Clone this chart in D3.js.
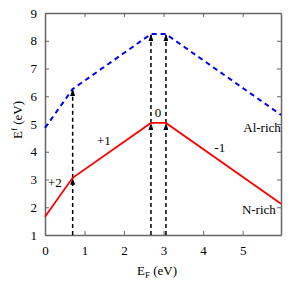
<!DOCTYPE html>
<html>
<head>
<meta charset="utf-8">
<script src="https://cdn.jsdelivr.net/npm/d3@7"></script>
<style>
  body { margin: 0; background: #fff; }
</style>
</head>
<body>
<div id="chart"></div>
<script>
// N-rich formation energy (red), kinks at transition levels
const nRichX = [0, 0.7, 2.68, 3.06, 5.97];
const nRichY = [1.66, 3.06, 5.04, 5.04, 2.13];
// Al-rich formation energy (blue dashed)
const alRichX = [0, 0.7, 2.68, 3.06, 5.97];
const alRichY = [4.86, 6.26, 8.24, 8.24, 5.33];
// transition levels (dashed arrows)
const levels = [0.7, 2.68, 3.06];
const levelLow = [3.06, 5.04, 5.04];
const levelHigh = [6.26, 8.24, 8.24];
// charge state labels
const chargeLabels = ['+2', '+1', '0', '-1'];
const chargeX = [0.25, 1.49, 2.86, 4.42];
const chargeY = [2.87, 4.39, 5.4, 4.13];
const xTicks = [0, 1, 2, 3, 4, 5];
const yTicks = [1, 2, 3, 4, 5, 6, 7, 8, 9];

const w = 300, h = 300,
      padL = 45, padR = 281, padT = 13, padB = 235;
const serif = 'Liberation Serif';

const svg = d3.select('#chart').append('svg')
    .attr('width', w).attr('height', h)
    .attr('font-family', serif);

const defs = svg.append('defs');
defs.append('marker')
    .attr('id', 'head')
    .attr('viewBox', '0 0 10 10')
    .attr('refX', 10).attr('refY', 5)
    .attr('markerWidth', 7).attr('markerHeight', 5)
    .attr('markerUnits', 'userSpaceOnUse')
    .attr('orient', 'auto')
    .attr('preserveAspectRatio', 'none')
    .append('path').attr('d', 'M0,0 L10,5 L0,10 z').attr('fill', '#000');

const x = d3.scaleLinear().domain([0, 5.97]).range([padL, padR]);
const y = d3.scaleLinear().domain([1, 9]).range([padB, padT]);

// frame with inward ticks on all sides
const frame = '#666';
svg.append('g').attr('transform', 'translate(0,' + padB + ')')
    .call(d3.axisBottom(x).tickValues(xTicks).tickSizeInner(-4).tickSizeOuter(0).tickPadding(11).tickFormat(d3.format('d')));
svg.append('g').attr('transform', 'translate(0,' + padT + ')')
    .call(d3.axisTop(x).tickValues(xTicks).tickSizeInner(-4).tickSizeOuter(0).tickFormat(''));
svg.append('g').attr('transform', 'translate(' + padL + ',0)')
    .call(d3.axisLeft(y).tickValues(yTicks).tickSizeInner(-4).tickSizeOuter(0).tickPadding(8).tickFormat(d3.format('d')));
svg.append('g').attr('transform', 'translate(' + padR + ',0)')
    .call(d3.axisRight(y).tickValues(yTicks).tickSizeInner(-4).tickSizeOuter(0).tickFormat(''));

svg.selectAll('g').attr('font-family', serif).attr('font-size', 13);
svg.selectAll('.domain').attr('stroke', frame).attr('stroke-width', 1.5);
svg.selectAll('.tick line').attr('stroke', frame);
svg.selectAll('.tick text').attr('fill', '#000');

// axis labels
const xl = svg.append('text').attr('x', 157).attr('y', 275).attr('text-anchor', 'middle').attr('font-size', 13);
xl.append('tspan').text('E');
xl.append('tspan').text('F').attr('font-size', 9).attr('dy', 3);
xl.append('tspan').text(' (eV)').attr('dy', -3);

const yl = svg.append('text').attr('transform', 'translate(22,120) rotate(-90)').attr('text-anchor', 'middle').attr('font-size', 13);
yl.append('tspan').text('E');
yl.append('tspan').text('f').attr('font-size', 9).attr('dy', -5);
yl.append('tspan').text(' (eV)').attr('dy', 5);

// vertical dashed arrows
levels.forEach((lv, i) => {
    svg.append('line')
        .attr('x1', x(lv)).attr('x2', x(lv))
        .attr('y1', y(1)).attr('y2', y(levelLow[i]))
        .attr('stroke', '#000').attr('stroke-width', 1.5).attr('stroke-dasharray', '4,3')
        .attr('marker-end', 'url(#head)');
    svg.append('line')
        .attr('x1', x(lv)).attr('x2', x(lv))
        .attr('y1', y(levelLow[i])).attr('y2', y(levelHigh[i]))
        .attr('stroke', '#000').attr('stroke-width', 1.5).attr('stroke-dasharray', '4,3')
        .attr('marker-end', 'url(#head)');
});

const line = d3.line().x(d => x(d[0])).y(d => y(d[1]));

svg.append('path')
    .datum(alRichX.map((d, i) => [d, alRichY[i]]))
    .attr('d', line).attr('fill', 'none')
    .attr('stroke', '#0000ff').attr('stroke-width', 2).attr('stroke-dasharray', '5,4');

svg.append('path')
    .datum(nRichX.map((d, i) => [d, nRichY[i]]))
    .attr('d', line).attr('fill', 'none')
    .attr('stroke', '#ff0000').attr('stroke-width', 1.8);

// charge labels
chargeLabels.forEach((t, i) => {
    svg.append('text').text(t)
        .attr('x', x(chargeX[i])).attr('y', y(chargeY[i]) + 4)
        .attr('text-anchor', 'middle').attr('font-size', 13);
});

// region labels
[['Al-rich', 5.49, 4.86], ['N-rich', 5.41, 1.9]].forEach(d => {
    svg.append('text').text(d[0])
        .attr('x', x(d[1])).attr('y', y(d[2]) + 4)
        .attr('text-anchor', 'middle').attr('font-size', 13);
});
</script>
</body>
</html>
